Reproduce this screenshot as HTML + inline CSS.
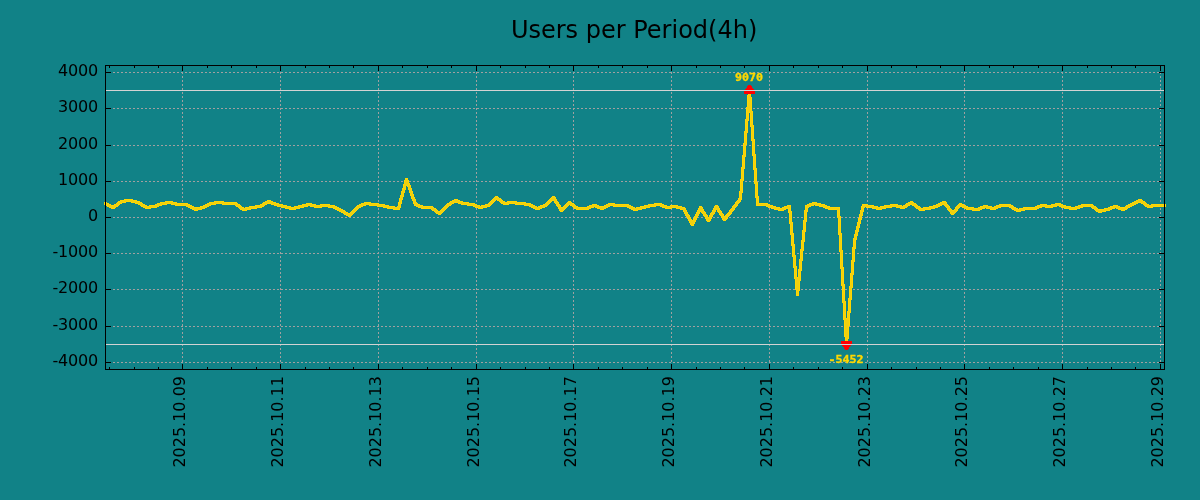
<!DOCTYPE html>
<html lang="en"><head><meta charset="utf-8"><title>Users per Period(4h)</title>
<style>
html,body{margin:0;padding:0;background:#118287;}
body{width:1200px;height:500px;overflow:hidden;}
svg{display:block;}
text{font-family:"DejaVu Sans","Liberation Sans",sans-serif;fill:#000000;}
.t{font-size:24px;}
.l{font-size:16px;letter-spacing:-0.2px;}
.x{letter-spacing:0;}
.m{font-family:"DejaVu Sans Mono","Liberation Mono",monospace;font-weight:bold;font-size:10.5px;fill:#ffd700;stroke:#ffd700;stroke-width:0.35px;}
</style></head><body>
<svg width="1200" height="500" viewBox="0 0 1200 500">
<rect x="0" y="0" width="1200" height="500" fill="#118287"/>
<g shape-rendering="crispEdges" stroke="#a0a0a0" stroke-width="1" stroke-dasharray="2 2" fill="none">
<line x1="105" y1="72.5" x2="1165" y2="72.5"/>
<line x1="105" y1="108.5" x2="1165" y2="108.5"/>
<line x1="105" y1="145.5" x2="1165" y2="145.5"/>
<line x1="105" y1="181.5" x2="1165" y2="181.5"/>
<line x1="105" y1="217.5" x2="1165" y2="217.5"/>
<line x1="105" y1="253.5" x2="1165" y2="253.5"/>
<line x1="105" y1="289.5" x2="1165" y2="289.5"/>
<line x1="105" y1="326.5" x2="1165" y2="326.5"/>
<line x1="105" y1="362.5" x2="1165" y2="362.5"/>
<line x1="182.5" y1="370" x2="182.5" y2="65"/>
<line x1="280.5" y1="370" x2="280.5" y2="65"/>
<line x1="378.5" y1="370" x2="378.5" y2="65"/>
<line x1="476.5" y1="370" x2="476.5" y2="65"/>
<line x1="573.5" y1="370" x2="573.5" y2="65"/>
<line x1="671.5" y1="370" x2="671.5" y2="65"/>
<line x1="769.5" y1="370" x2="769.5" y2="65"/>
<line x1="867.5" y1="370" x2="867.5" y2="65"/>
<line x1="964.5" y1="370" x2="964.5" y2="65"/>
<line x1="1062.5" y1="370" x2="1062.5" y2="65"/>
<line x1="1160.5" y1="370" x2="1160.5" y2="65"/>
</g>
<path shape-rendering="crispEdges" fill="#ffd700" d="M104 202h1v3h-1zM105 202h2v4h-2zM107 203h2v4h-2zM109 204h2v4h-2zM111 205h3v4h-3zM114 204h1v5h-1zM115 204h1v4h-1zM116 203h1v4h-1zM117 202h1v5h-1zM118 201h1v5h-1zM119 201h1v4h-1zM120 200h2v4h-2zM122 200h2v3h-2zM124 199h2v4h-2zM126 199h5v3h-5zM131 199h2v4h-2zM133 200h2v3h-2zM135 200h2v4h-2zM137 201h1v3h-1zM138 201h2v4h-2zM140 202h1v4h-1zM141 202h1v5h-1zM142 203h1v4h-1zM143 204h2v4h-2zM145 205h2v4h-2zM147 206h2v3h-2zM149 205h2v4h-2zM151 205h4v3h-4zM155 204h2v4h-2zM157 203h2v4h-2zM159 203h1v3h-1zM160 202h2v4h-2zM162 202h3v3h-3zM165 201h2v4h-2zM167 201h4v3h-4zM171 201h2v4h-2zM173 202h2v3h-2zM175 202h2v4h-2zM177 203h9v3h-9zM186 203h2v4h-2zM188 204h2v4h-2zM190 205h2v4h-2zM192 206h2v4h-2zM194 207h4v4h-4zM198 207h2v3h-2zM200 206h2v4h-2zM202 206h1v3h-1zM203 205h2v4h-2zM205 204h2v4h-2zM207 203h2v4h-2zM209 202h2v4h-2zM211 202h3v3h-3zM214 201h2v4h-2zM216 201h6v3h-6zM222 201h2v4h-2zM224 202h11v3h-11zM235 202h1v4h-1zM236 202h1v5h-1zM237 203h1v4h-1zM238 204h1v4h-1zM239 204h1v5h-1zM240 205h1v5h-1zM241 206h1v4h-1zM242 207h2v4h-2zM244 208h1v3h-1zM245 207h2v4h-2zM247 207h2v3h-2zM249 206h2v4h-2zM251 206h4v3h-4zM255 205h2v4h-2zM257 205h3v3h-3zM260 204h2v4h-2zM262 203h1v4h-1zM263 202h1v5h-1zM264 202h1v4h-1zM265 201h2v4h-2zM267 200h4v4h-4zM271 201h2v4h-2zM273 202h1v3h-1zM274 202h2v4h-2zM276 203h1v3h-1zM277 203h2v4h-2zM279 204h2v3h-2zM281 204h2v4h-2zM283 205h2v3h-2zM285 205h2v4h-2zM287 206h2v3h-2zM289 206h2v4h-2zM291 207h3v3h-3zM294 206h2v4h-2zM296 206h2v3h-2zM298 205h2v4h-2zM300 205h2v3h-2zM302 204h2v4h-2zM304 204h2v3h-2zM306 203h2v4h-2zM308 203h2v3h-2zM310 203h2v4h-2zM312 204h2v3h-2zM314 204h2v4h-2zM316 205h4v3h-4zM320 204h2v4h-2zM322 204h6v3h-6zM328 204h2v4h-2zM330 205h3v3h-3zM333 205h2v4h-2zM335 206h2v4h-2zM337 207h2v4h-2zM339 208h2v4h-2zM341 209h2v4h-2zM343 210h1v4h-1zM344 210h1v5h-1zM345 211h1v4h-1zM346 212h2v4h-2zM348 213h2v4h-2zM350 212h1v5h-1zM351 211h1v5h-1zM352 210h1v5h-1zM353 209h1v5h-1zM354 208h1v5h-1zM355 207h1v5h-1zM356 206h1v5h-1zM357 205h1v5h-1zM358 205h1v4h-1zM359 204h2v4h-2zM361 203h2v4h-2zM363 203h1v3h-1zM364 202h2v4h-2zM366 202h3v3h-3zM369 202h2v4h-2zM371 203h6v3h-6zM377 203h2v4h-2zM379 204h4v3h-4zM383 204h2v4h-2zM385 205h2v3h-2zM387 205h2v4h-2zM389 206h4v3h-4zM393 206h2v4h-2zM395 207h2v3h-2zM397 206h1v4h-1zM398 202h1v8h-1zM399 198h1v12h-1zM400 195h1v13h-1zM401 191h1v13h-1zM402 188h1v12h-1zM403 184h1v13h-1zM404 180h1v13h-1zM405 178h1v12h-1zM406 178h1v8h-1zM407 178h1v9h-1zM408 180h1v10h-1zM409 183h1v10h-1zM410 185h1v11h-1zM411 188h1v11h-1zM412 191h1v10h-1zM413 194h1v10h-1zM414 197h1v9h-1zM415 199h1v7h-1zM416 202h1v5h-1zM417 203h1v4h-1zM418 204h2v4h-2zM420 205h1v3h-1zM421 205h2v4h-2zM423 206h8v3h-8zM431 206h1v4h-1zM432 206h1v5h-1zM433 207h1v4h-1zM434 208h1v4h-1zM435 208h1v5h-1zM436 209h1v5h-1zM437 210h1v4h-1zM438 211h2v4h-2zM440 210h1v5h-1zM441 209h1v5h-1zM442 208h1v5h-1zM443 207h1v5h-1zM444 206h1v5h-1zM445 205h1v5h-1zM446 204h1v5h-1zM447 203h1v5h-1zM448 203h1v4h-1zM449 202h1v4h-1zM450 201h1v5h-1zM451 201h1v4h-1zM452 200h2v4h-2zM454 199h4v4h-4zM458 200h2v4h-2zM460 201h1v3h-1zM461 201h2v4h-2zM463 202h4v3h-4zM467 202h2v4h-2zM469 203h4v3h-4zM473 203h2v4h-2zM475 204h2v4h-2zM477 205h1v3h-1zM478 205h2v4h-2zM480 206h1v3h-1zM481 205h2v4h-2zM483 205h2v3h-2zM485 204h2v4h-2zM487 204h1v3h-1zM488 203h1v4h-1zM489 202h1v5h-1zM490 201h1v5h-1zM491 200h1v5h-1zM492 199h1v5h-1zM493 198h1v5h-1zM494 197h1v5h-1zM495 196h1v5h-1zM496 196h1v4h-1zM497 196h1v5h-1zM498 197h1v4h-1zM499 198h1v4h-1zM500 198h1v5h-1zM501 199h1v5h-1zM502 200h1v4h-1zM503 201h2v4h-2zM505 202h2v3h-2zM507 201h2v4h-2zM509 201h6v3h-6zM515 201h2v4h-2zM517 202h7v3h-7zM524 202h2v4h-2zM526 203h3v3h-3zM529 203h2v4h-2zM531 204h2v4h-2zM533 205h2v4h-2zM535 206h2v4h-2zM537 207h1v3h-1zM538 206h2v4h-2zM540 205h2v4h-2zM542 205h1v3h-1zM543 204h2v4h-2zM545 203h1v4h-1zM546 202h1v5h-1zM547 201h1v5h-1zM548 200h1v5h-1zM549 199h1v5h-1zM550 198h1v5h-1zM551 197h1v5h-1zM552 196h2v5h-2zM554 196h1v7h-1zM555 197h1v7h-1zM556 199h1v7h-1zM557 201h1v6h-1zM558 202h1v7h-1zM559 204h1v7h-1zM560 205h1v7h-1zM561 207h2v5h-2zM563 206h1v5h-1zM564 205h1v5h-1zM565 204h1v5h-1zM566 203h1v5h-1zM567 202h1v5h-1zM568 201h1v5h-1zM569 201h1v4h-1zM570 201h1v5h-1zM571 202h1v4h-1zM572 203h1v4h-1zM573 203h1v5h-1zM574 204h1v5h-1zM575 205h1v4h-1zM576 206h2v4h-2zM578 207h9v3h-9zM587 206h2v4h-2zM589 205h2v4h-2zM591 205h1v3h-1zM592 204h2v4h-2zM594 204h1v3h-1zM595 204h2v4h-2zM597 205h2v4h-2zM599 206h1v3h-1zM600 206h4v4h-4zM604 205h2v4h-2zM606 204h2v4h-2zM608 203h2v4h-2zM610 203h3v3h-3zM613 203h2v4h-2zM615 204h12v3h-12zM627 204h2v4h-2zM629 205h2v4h-2zM631 206h2v4h-2zM633 207h2v4h-2zM635 208h1v3h-1zM636 207h2v4h-2zM638 207h2v3h-2zM640 206h2v4h-2zM642 206h2v3h-2zM644 205h2v4h-2zM646 205h2v3h-2zM648 204h2v4h-2zM650 204h4v3h-4zM654 203h2v4h-2zM656 203h4v3h-4zM660 203h2v4h-2zM662 204h2v4h-2zM664 205h1v3h-1zM665 205h2v4h-2zM667 206h3v3h-3zM670 205h2v4h-2zM672 205h4v3h-4zM676 205h2v4h-2zM678 206h2v3h-2zM680 206h2v4h-2zM682 207h1v3h-1zM683 207h1v5h-1zM684 207h1v7h-1zM685 208h1v8h-1zM686 210h1v7h-1zM687 212h1v7h-1zM688 214h1v7h-1zM689 215h1v8h-1zM690 217h1v8h-1zM691 219h1v7h-1zM692 220h1v6h-1zM693 218h1v8h-1zM694 216h1v8h-1zM695 214h1v8h-1zM696 212h1v8h-1zM697 210h1v8h-1zM698 208h1v8h-1zM699 206h1v8h-1zM700 206h1v6h-1zM701 206h1v7h-1zM702 207h1v7h-1zM703 209h1v7h-1zM704 211h1v6h-1zM705 212h1v7h-1zM706 214h1v7h-1zM707 215h1v7h-1zM708 217h1v5h-1zM709 215h1v7h-1zM710 213h1v8h-1zM711 212h1v7h-1zM712 210h1v7h-1zM713 208h1v7h-1zM714 206h1v8h-1zM715 205h1v7h-1zM716 205h1v5h-1zM717 205h1v7h-1zM718 206h1v7h-1zM719 208h1v7h-1zM720 210h1v6h-1zM721 211h1v7h-1zM722 213h1v7h-1zM723 214h1v7h-1zM724 216h1v5h-1zM725 215h1v6h-1zM726 214h1v6h-1zM727 213h1v6h-1zM728 212h1v5h-1zM729 210h1v6h-1zM730 209h1v6h-1zM731 208h1v6h-1zM732 206h1v6h-1zM733 205h1v6h-1zM734 204h1v6h-1zM735 202h1v6h-1zM736 201h1v6h-1zM737 200h1v6h-1zM738 198h1v6h-1zM739 191h1v12h-1zM740 179h1v23h-1zM741 167h1v33h-1zM742 155h1v38h-1zM743 143h1v38h-1zM744 131h1v38h-1zM745 119h1v38h-1zM746 107h1v38h-1zM747 95h1v38h-1zM748 89h1v32h-1zM749 89h1v24h-1zM750 89h1v38h-1zM751 97h1v44h-1zM752 111h1v45h-1zM753 125h1v45h-1zM754 139h1v45h-1zM755 154h1v44h-1zM756 168h1v38h-1zM757 182h1v24h-1zM758 196h1v10h-1zM759 203h7v3h-7zM766 203h2v4h-2zM768 204h2v4h-2zM770 205h1v3h-1zM771 205h2v4h-2zM773 206h1v3h-1zM774 206h2v4h-2zM776 207h2v3h-2zM778 207h2v4h-2zM780 208h2v3h-2zM782 207h2v4h-2zM784 206h2v4h-2zM786 206h1v3h-1zM787 205h1v4h-1zM788 205h1v8h-1zM789 205h1v19h-1zM790 205h1v30h-1zM791 211h1v35h-1zM792 222h1v35h-1zM793 233h1v35h-1zM794 244h1v35h-1zM795 255h1v35h-1zM796 266h1v30h-1zM797 277h1v19h-1zM798 269h1v27h-1zM799 259h1v32h-1zM800 249h1v32h-1zM801 240h1v31h-1zM802 230h1v31h-1zM803 220h1v31h-1zM804 210h1v32h-1zM805 205h1v27h-1zM806 205h1v17h-1zM807 204h1v8h-1zM808 204h1v4h-1zM809 203h2v4h-2zM811 203h1v3h-1zM812 202h2v4h-2zM814 202h1v3h-1zM815 202h2v4h-2zM817 203h2v3h-2zM819 203h2v4h-2zM821 204h2v3h-2zM823 204h2v4h-2zM825 205h2v4h-2zM827 206h1v3h-1zM828 206h2v4h-2zM830 207h7v3h-7zM837 207h1v11h-1zM838 207h1v28h-1zM839 207h1v45h-1zM840 216h1v53h-1zM841 233h1v53h-1zM842 250h1v53h-1zM843 267h1v53h-1zM844 284h1v53h-1zM845 301h1v45h-1zM846 318h1v28h-1zM847 311h1v35h-1zM848 298h1v41h-1zM849 286h1v40h-1zM850 273h1v40h-1zM851 260h1v40h-1zM852 247h1v41h-1zM853 238h1v37h-1zM854 234h1v28h-1zM855 230h1v19h-1zM856 226h1v14h-1zM857 222h1v14h-1zM858 218h1v14h-1zM859 214h1v14h-1zM860 210h1v14h-1zM861 206h1v14h-1zM862 204h1v12h-1zM863 204h1v8h-1zM864 204h1v4h-1zM865 204h1v3h-1zM866 204h2v4h-2zM868 205h4v3h-4zM872 205h2v4h-2zM874 206h2v3h-2zM876 206h2v4h-2zM878 207h2v3h-2zM880 206h2v4h-2zM882 206h2v3h-2zM884 205h2v4h-2zM886 205h4v3h-4zM890 204h2v4h-2zM892 204h4v3h-4zM896 204h2v4h-2zM898 205h2v3h-2zM900 205h2v4h-2zM902 206h1v3h-1zM903 205h2v4h-2zM905 204h1v4h-1zM906 203h1v5h-1zM907 203h1v4h-1zM908 202h2v4h-2zM910 201h2v4h-2zM912 201h1v5h-1zM913 202h1v4h-1zM914 203h1v4h-1zM915 203h1v5h-1zM916 204h1v5h-1zM917 205h1v4h-1zM918 206h1v4h-1zM919 206h1v5h-1zM920 207h1v4h-1zM921 208h2v3h-2zM923 207h2v4h-2zM925 207h4v3h-4zM929 206h2v4h-2zM931 206h2v3h-2zM933 205h2v4h-2zM935 205h1v3h-1zM936 204h2v4h-2zM938 203h2v4h-2zM940 202h2v4h-2zM942 201h2v4h-2zM944 201h1v5h-1zM945 201h1v6h-1zM946 202h1v6h-1zM947 204h1v6h-1zM948 205h1v6h-1zM949 206h1v6h-1zM950 208h1v6h-1zM951 209h1v6h-1zM952 210h2v5h-2zM954 209h1v5h-1zM955 207h1v6h-1zM956 206h1v6h-1zM957 205h1v6h-1zM958 204h1v5h-1zM959 203h1v5h-1zM960 203h2v4h-2zM962 204h2v4h-2zM964 205h2v4h-2zM966 206h2v4h-2zM968 207h4v3h-4zM972 207h2v4h-2zM974 208h4v3h-4zM978 207h2v4h-2zM980 206h2v4h-2zM982 206h1v3h-1zM983 205h2v4h-2zM985 205h1v3h-1zM986 205h2v4h-2zM988 206h2v3h-2zM990 206h2v4h-2zM992 207h2v3h-2zM994 206h2v4h-2zM996 205h2v4h-2zM998 205h1v3h-1zM999 204h2v4h-2zM1001 204h8v3h-8zM1009 204h2v4h-2zM1011 205h1v4h-1zM1012 205h1v5h-1zM1013 206h1v4h-1zM1014 207h2v4h-2zM1016 208h2v4h-2zM1018 209h1v3h-1zM1019 208h2v4h-2zM1021 208h2v3h-2zM1023 207h2v4h-2zM1025 207h10v3h-10zM1035 206h2v4h-2zM1037 205h2v4h-2zM1039 205h1v3h-1zM1040 204h2v4h-2zM1042 204h3v3h-3zM1045 204h2v4h-2zM1047 205h4v3h-4zM1051 204h2v4h-2zM1053 204h2v3h-2zM1055 203h2v4h-2zM1057 203h2v3h-2zM1059 203h2v4h-2zM1061 204h2v4h-2zM1063 205h1v3h-1zM1064 205h2v4h-2zM1066 206h3v3h-3zM1069 206h2v4h-2zM1071 207h4v3h-4zM1075 206h2v4h-2zM1077 206h1v3h-1zM1078 205h2v4h-2zM1080 205h1v3h-1zM1081 204h2v4h-2zM1083 204h8v3h-8zM1091 204h1v4h-1zM1092 204h1v5h-1zM1093 205h1v4h-1zM1094 206h1v4h-1zM1095 206h1v5h-1zM1096 207h1v5h-1zM1097 208h1v4h-1zM1098 209h4v4h-4zM1102 209h2v3h-2zM1104 208h2v4h-2zM1106 208h2v3h-2zM1108 207h2v4h-2zM1110 206h2v4h-2zM1112 206h1v3h-1zM1113 205h2v4h-2zM1115 205h1v3h-1zM1116 205h2v4h-2zM1118 206h2v4h-2zM1120 207h1v3h-1zM1121 207h4v4h-4zM1125 206h1v4h-1zM1126 205h1v5h-1zM1127 205h1v4h-1zM1128 204h2v4h-2zM1130 203h2v4h-2zM1132 202h2v4h-2zM1134 201h2v4h-2zM1136 200h2v4h-2zM1138 199h3v4h-3zM1141 199h1v5h-1zM1142 200h1v4h-1zM1143 201h1v4h-1zM1144 201h1v5h-1zM1145 202h1v5h-1zM1146 203h1v4h-1zM1147 204h2v4h-2zM1149 205h2v3h-2zM1151 204h2v4h-2zM1153 204h13v3h-13z"/>
<path shape-rendering="crispEdges" fill="#f0d010" d="M105 203h2v2h-2zM107 204h2v2h-2zM109 205h2v2h-2zM111 206h3v2h-3zM114 205h1v3h-1zM115 205h1v2h-1zM116 204h1v2h-1zM117 203h1v3h-1zM118 202h1v3h-1zM119 202h1v2h-1zM120 201h2v2h-2zM122 201h2v1h-2zM124 200h2v2h-2zM126 200h5v1h-5zM131 200h2v2h-2zM133 201h2v1h-2zM135 201h2v2h-2zM137 202h1v1h-1zM138 202h2v2h-2zM140 203h1v2h-1zM141 203h1v3h-1zM142 204h1v2h-1zM143 205h2v2h-2zM145 206h2v2h-2zM147 207h2v1h-2zM149 206h2v2h-2zM151 206h4v1h-4zM155 205h2v2h-2zM157 204h2v2h-2zM159 204h1v1h-1zM160 203h2v2h-2zM162 203h3v1h-3zM165 202h2v2h-2zM167 202h4v1h-4zM171 202h2v2h-2zM173 203h2v1h-2zM175 203h2v2h-2zM177 204h9v1h-9zM186 204h2v2h-2zM188 205h2v2h-2zM190 206h2v2h-2zM192 207h2v2h-2zM194 208h4v2h-4zM198 208h2v1h-2zM200 207h2v2h-2zM202 207h1v1h-1zM203 206h2v2h-2zM205 205h2v2h-2zM207 204h2v2h-2zM209 203h2v2h-2zM211 203h3v1h-3zM214 202h2v2h-2zM216 202h6v1h-6zM222 202h2v2h-2zM224 203h11v1h-11zM235 203h1v2h-1zM236 203h1v3h-1zM237 204h1v2h-1zM238 205h1v2h-1zM239 205h1v3h-1zM240 206h1v3h-1zM241 207h1v2h-1zM242 208h2v2h-2zM244 209h1v1h-1zM245 208h2v2h-2zM247 208h2v1h-2zM249 207h2v2h-2zM251 207h4v1h-4zM255 206h2v2h-2zM257 206h3v1h-3zM260 205h2v2h-2zM262 204h1v2h-1zM263 203h1v3h-1zM264 203h1v2h-1zM265 202h2v2h-2zM267 201h4v2h-4zM271 202h2v2h-2zM273 203h1v1h-1zM274 203h2v2h-2zM276 204h1v1h-1zM277 204h2v2h-2zM279 205h2v1h-2zM281 205h2v2h-2zM283 206h2v1h-2zM285 206h2v2h-2zM287 207h2v1h-2zM289 207h2v2h-2zM291 208h3v1h-3zM294 207h2v2h-2zM296 207h2v1h-2zM298 206h2v2h-2zM300 206h2v1h-2zM302 205h2v2h-2zM304 205h2v1h-2zM306 204h2v2h-2zM308 204h2v1h-2zM310 204h2v2h-2zM312 205h2v1h-2zM314 205h2v2h-2zM316 206h4v1h-4zM320 205h2v2h-2zM322 205h6v1h-6zM328 205h2v2h-2zM330 206h3v1h-3zM333 206h2v2h-2zM335 207h2v2h-2zM337 208h2v2h-2zM339 209h2v2h-2zM341 210h2v2h-2zM343 211h1v2h-1zM344 211h1v3h-1zM345 212h1v2h-1zM346 213h2v2h-2zM348 214h2v2h-2zM350 213h1v3h-1zM351 212h1v3h-1zM352 211h1v3h-1zM353 210h1v3h-1zM354 209h1v3h-1zM355 208h1v3h-1zM356 207h1v3h-1zM357 206h1v3h-1zM358 206h1v2h-1zM359 205h2v2h-2zM361 204h2v2h-2zM363 204h1v1h-1zM364 203h2v2h-2zM366 203h3v1h-3zM369 203h2v2h-2zM371 204h6v1h-6zM377 204h2v2h-2zM379 205h4v1h-4zM383 205h2v2h-2zM385 206h2v1h-2zM387 206h2v2h-2zM389 207h4v1h-4zM393 207h2v2h-2zM395 208h2v1h-2zM397 207h1v2h-1zM398 206h1v3h-1zM399 202h1v6h-1zM400 198h1v6h-1zM401 195h1v5h-1zM402 191h1v6h-1zM403 188h1v5h-1zM404 184h1v6h-1zM405 180h1v6h-1zM406 179h1v6h-1zM407 180h1v6h-1zM408 183h1v4h-1zM409 185h1v5h-1zM410 188h1v5h-1zM411 191h1v5h-1zM412 194h1v5h-1zM413 197h1v4h-1zM414 199h1v5h-1zM415 202h1v3h-1zM416 203h1v3h-1zM417 204h1v2h-1zM418 205h2v2h-2zM420 206h1v1h-1zM421 206h2v2h-2zM423 207h8v1h-8zM431 207h1v2h-1zM432 207h1v3h-1zM433 208h1v2h-1zM434 209h1v2h-1zM435 209h1v3h-1zM436 210h1v3h-1zM437 211h1v2h-1zM438 212h2v2h-2zM440 211h1v3h-1zM441 210h1v3h-1zM442 209h1v3h-1zM443 208h1v3h-1zM444 207h1v3h-1zM445 206h1v3h-1zM446 205h1v3h-1zM447 204h1v3h-1zM448 204h1v2h-1zM449 203h1v2h-1zM450 202h1v3h-1zM451 202h1v2h-1zM452 201h2v2h-2zM454 200h4v2h-4zM458 201h2v2h-2zM460 202h1v1h-1zM461 202h2v2h-2zM463 203h4v1h-4zM467 203h2v2h-2zM469 204h4v1h-4zM473 204h2v2h-2zM475 205h2v2h-2zM477 206h1v1h-1zM478 206h2v2h-2zM480 207h1v1h-1zM481 206h2v2h-2zM483 206h2v1h-2zM485 205h2v2h-2zM487 205h1v1h-1zM488 204h1v2h-1zM489 203h1v3h-1zM490 202h1v3h-1zM491 201h1v3h-1zM492 200h1v3h-1zM493 199h1v3h-1zM494 198h1v3h-1zM495 197h1v3h-1zM496 197h1v2h-1zM497 197h1v3h-1zM498 198h1v2h-1zM499 199h1v2h-1zM500 199h1v3h-1zM501 200h1v3h-1zM502 201h1v2h-1zM503 202h2v2h-2zM505 203h2v1h-2zM507 202h2v2h-2zM509 202h6v1h-6zM515 202h2v2h-2zM517 203h7v1h-7zM524 203h2v2h-2zM526 204h3v1h-3zM529 204h2v2h-2zM531 205h2v2h-2zM533 206h2v2h-2zM535 207h2v2h-2zM537 208h1v1h-1zM538 207h2v2h-2zM540 206h2v2h-2zM542 206h1v1h-1zM543 205h2v2h-2zM545 204h1v2h-1zM546 203h1v3h-1zM547 202h1v3h-1zM548 201h1v3h-1zM549 200h1v3h-1zM550 199h1v3h-1zM551 198h1v3h-1zM552 197h2v3h-2zM554 197h1v4h-1zM555 199h1v4h-1zM556 201h1v3h-1zM557 202h1v4h-1zM558 204h1v3h-1zM559 205h1v4h-1zM560 207h1v4h-1zM561 208h2v3h-2zM563 207h1v3h-1zM564 206h1v3h-1zM565 205h1v3h-1zM566 204h1v3h-1zM567 203h1v3h-1zM568 202h1v3h-1zM569 202h1v2h-1zM570 202h1v3h-1zM571 203h1v2h-1zM572 204h1v2h-1zM573 204h1v3h-1zM574 205h1v3h-1zM575 206h1v2h-1zM576 207h2v2h-2zM578 208h9v1h-9zM587 207h2v2h-2zM589 206h2v2h-2zM591 206h1v1h-1zM592 205h2v2h-2zM594 205h1v1h-1zM595 205h2v2h-2zM597 206h2v2h-2zM599 207h1v1h-1zM600 207h4v2h-4zM604 206h2v2h-2zM606 205h2v2h-2zM608 204h2v2h-2zM610 204h3v1h-3zM613 204h2v2h-2zM615 205h12v1h-12zM627 205h2v2h-2zM629 206h2v2h-2zM631 207h2v2h-2zM633 208h2v2h-2zM635 209h1v1h-1zM636 208h2v2h-2zM638 208h2v1h-2zM640 207h2v2h-2zM642 207h2v1h-2zM644 206h2v2h-2zM646 206h2v1h-2zM648 205h2v2h-2zM650 205h4v1h-4zM654 204h2v2h-2zM656 204h4v1h-4zM660 204h2v2h-2zM662 205h2v2h-2zM664 206h1v1h-1zM665 206h2v2h-2zM667 207h3v1h-3zM670 206h2v2h-2zM672 206h4v1h-4zM676 206h2v2h-2zM678 207h2v1h-2zM680 207h2v2h-2zM682 208h1v1h-1zM683 208h1v2h-1zM684 208h1v4h-1zM685 210h1v4h-1zM686 212h1v4h-1zM687 214h1v3h-1zM688 215h1v4h-1zM689 217h1v4h-1zM690 219h1v4h-1zM691 220h1v5h-1zM692 221h1v4h-1zM693 220h1v4h-1zM694 218h1v4h-1zM695 216h1v4h-1zM696 214h1v4h-1zM697 212h1v4h-1zM698 210h1v4h-1zM699 208h1v4h-1zM700 207h1v4h-1zM701 207h1v5h-1zM702 209h1v4h-1zM703 211h1v3h-1zM704 212h1v4h-1zM705 214h1v3h-1zM706 215h1v4h-1zM707 217h1v4h-1zM708 218h1v3h-1zM709 217h1v4h-1zM710 215h1v4h-1zM711 213h1v4h-1zM712 212h1v3h-1zM713 210h1v4h-1zM714 208h1v4h-1zM715 206h1v4h-1zM716 206h1v3h-1zM717 206h1v4h-1zM718 208h1v4h-1zM719 210h1v3h-1zM720 211h1v4h-1zM721 213h1v3h-1zM722 214h1v4h-1zM723 216h1v4h-1zM724 217h1v3h-1zM725 216h1v4h-1zM726 215h1v4h-1zM727 214h1v3h-1zM728 213h1v3h-1zM729 212h1v3h-1zM730 210h1v4h-1zM731 209h1v3h-1zM732 208h1v3h-1zM733 206h1v4h-1zM734 205h1v3h-1zM735 204h1v3h-1zM736 202h1v4h-1zM737 201h1v3h-1zM738 200h1v3h-1zM739 198h1v4h-1zM740 191h1v9h-1zM741 179h1v14h-1zM742 167h1v14h-1zM743 155h1v14h-1zM744 143h1v14h-1zM745 131h1v14h-1zM746 119h1v14h-1zM747 107h1v14h-1zM748 95h1v18h-1zM749 90h1v22h-1zM750 97h1v16h-1zM751 111h1v16h-1zM752 125h1v16h-1zM753 139h1v17h-1zM754 154h1v16h-1zM755 168h1v16h-1zM756 182h1v16h-1zM757 196h1v9h-1zM758 203h1v2h-1zM759 204h7v1h-7zM766 204h2v2h-2zM768 205h2v2h-2zM770 206h1v1h-1zM771 206h2v2h-2zM773 207h1v1h-1zM774 207h2v2h-2zM776 208h2v1h-2zM778 208h2v2h-2zM780 209h2v1h-2zM782 208h2v2h-2zM784 207h2v2h-2zM786 207h1v1h-1zM787 206h1v2h-1zM788 206h1v3h-1zM789 206h1v7h-1zM790 211h1v13h-1zM791 222h1v13h-1zM792 233h1v13h-1zM793 244h1v13h-1zM794 255h1v13h-1zM795 266h1v13h-1zM796 277h1v13h-1zM797 278h1v17h-1zM798 277h1v14h-1zM799 269h1v12h-1zM800 259h1v12h-1zM801 249h1v12h-1zM802 240h1v11h-1zM803 230h1v12h-1zM804 220h1v12h-1zM805 210h1v12h-1zM806 206h1v6h-1zM807 205h1v3h-1zM808 205h1v2h-1zM809 204h2v2h-2zM811 204h1v1h-1zM812 203h2v2h-2zM814 203h1v1h-1zM815 203h2v2h-2zM817 204h2v1h-2zM819 204h2v2h-2zM821 205h2v1h-2zM823 205h2v2h-2zM825 206h2v2h-2zM827 207h1v1h-1zM828 207h2v2h-2zM830 208h7v1h-7zM837 208h1v2h-1zM838 208h1v10h-1zM839 216h1v19h-1zM840 233h1v19h-1zM841 250h1v19h-1zM842 267h1v19h-1zM843 284h1v19h-1zM844 301h1v19h-1zM845 318h1v19h-1zM846 319h1v26h-1zM847 318h1v21h-1zM848 311h1v15h-1zM849 298h1v15h-1zM850 286h1v14h-1zM851 273h1v15h-1zM852 260h1v15h-1zM853 247h1v15h-1zM854 238h1v11h-1zM855 234h1v6h-1zM856 230h1v6h-1zM857 226h1v6h-1zM858 222h1v6h-1zM859 218h1v6h-1zM860 214h1v6h-1zM861 210h1v6h-1zM862 206h1v6h-1zM863 205h1v3h-1zM864 205h1v2h-1zM865 205h1v1h-1zM866 205h2v2h-2zM868 206h4v1h-4zM872 206h2v2h-2zM874 207h2v1h-2zM876 207h2v2h-2zM878 208h2v1h-2zM880 207h2v2h-2zM882 207h2v1h-2zM884 206h2v2h-2zM886 206h4v1h-4zM890 205h2v2h-2zM892 205h4v1h-4zM896 205h2v2h-2zM898 206h2v1h-2zM900 206h2v2h-2zM902 207h1v1h-1zM903 206h2v2h-2zM905 205h1v2h-1zM906 204h1v3h-1zM907 204h1v2h-1zM908 203h2v2h-2zM910 202h2v2h-2zM912 202h1v3h-1zM913 203h1v2h-1zM914 204h1v2h-1zM915 204h1v3h-1zM916 205h1v3h-1zM917 206h1v2h-1zM918 207h1v2h-1zM919 207h1v3h-1zM920 208h1v2h-1zM921 209h2v1h-2zM923 208h2v2h-2zM925 208h4v1h-4zM929 207h2v2h-2zM931 207h2v1h-2zM933 206h2v2h-2zM935 206h1v1h-1zM936 205h2v2h-2zM938 204h2v2h-2zM940 203h2v2h-2zM942 202h2v2h-2zM944 202h1v3h-1zM945 202h1v4h-1zM946 204h1v3h-1zM947 205h1v3h-1zM948 206h1v4h-1zM949 208h1v3h-1zM950 209h1v3h-1zM951 210h1v4h-1zM952 211h2v3h-2zM954 210h1v3h-1zM955 209h1v3h-1zM956 207h1v4h-1zM957 206h1v3h-1zM958 205h1v3h-1zM959 204h1v3h-1zM960 204h2v2h-2zM962 205h2v2h-2zM964 206h2v2h-2zM966 207h2v2h-2zM968 208h4v1h-4zM972 208h2v2h-2zM974 209h4v1h-4zM978 208h2v2h-2zM980 207h2v2h-2zM982 207h1v1h-1zM983 206h2v2h-2zM985 206h1v1h-1zM986 206h2v2h-2zM988 207h2v1h-2zM990 207h2v2h-2zM992 208h2v1h-2zM994 207h2v2h-2zM996 206h2v2h-2zM998 206h1v1h-1zM999 205h2v2h-2zM1001 205h8v1h-8zM1009 205h2v2h-2zM1011 206h1v2h-1zM1012 206h1v3h-1zM1013 207h1v2h-1zM1014 208h2v2h-2zM1016 209h2v2h-2zM1018 210h1v1h-1zM1019 209h2v2h-2zM1021 209h2v1h-2zM1023 208h2v2h-2zM1025 208h10v1h-10zM1035 207h2v2h-2zM1037 206h2v2h-2zM1039 206h1v1h-1zM1040 205h2v2h-2zM1042 205h3v1h-3zM1045 205h2v2h-2zM1047 206h4v1h-4zM1051 205h2v2h-2zM1053 205h2v1h-2zM1055 204h2v2h-2zM1057 204h2v1h-2zM1059 204h2v2h-2zM1061 205h2v2h-2zM1063 206h1v1h-1zM1064 206h2v2h-2zM1066 207h3v1h-3zM1069 207h2v2h-2zM1071 208h4v1h-4zM1075 207h2v2h-2zM1077 207h1v1h-1zM1078 206h2v2h-2zM1080 206h1v1h-1zM1081 205h2v2h-2zM1083 205h8v1h-8zM1091 205h1v2h-1zM1092 205h1v3h-1zM1093 206h1v2h-1zM1094 207h1v2h-1zM1095 207h1v3h-1zM1096 208h1v3h-1zM1097 209h1v2h-1zM1098 210h4v2h-4zM1102 210h2v1h-2zM1104 209h2v2h-2zM1106 209h2v1h-2zM1108 208h2v2h-2zM1110 207h2v2h-2zM1112 207h1v1h-1zM1113 206h2v2h-2zM1115 206h1v1h-1zM1116 206h2v2h-2zM1118 207h2v2h-2zM1120 208h1v1h-1zM1121 208h4v2h-4zM1125 207h1v2h-1zM1126 206h1v3h-1zM1127 206h1v2h-1zM1128 205h2v2h-2zM1130 204h2v2h-2zM1132 203h2v2h-2zM1134 202h2v2h-2zM1136 201h2v2h-2zM1138 200h3v2h-3zM1141 200h1v3h-1zM1142 201h1v2h-1zM1143 202h1v2h-1zM1144 202h1v3h-1zM1145 203h1v3h-1zM1146 204h1v2h-1zM1147 205h2v2h-2zM1149 206h2v1h-2zM1151 205h2v2h-2zM1153 205h12v1h-12z"/>
<g shape-rendering="crispEdges" fill="#ff0000">
<rect x="748" y="85" width="3" height="1"/>
<rect x="747" y="86" width="5" height="1"/>
<rect x="747" y="87" width="5" height="1"/>
<rect x="746" y="88" width="7" height="1"/>
<rect x="745" y="89" width="9" height="1"/>
<rect x="744" y="90" width="11" height="1"/>
<rect x="744" y="91" width="11" height="1"/>
<rect x="744" y="92" width="11" height="1"/>
<rect x="744" y="93" width="11" height="1"/>
<rect x="841" y="341" width="11" height="1"/>
<rect x="841" y="342" width="11" height="1"/>
<rect x="841" y="343" width="11" height="1"/>
<rect x="841" y="344" width="11" height="1"/>
<rect x="842" y="345" width="9" height="1"/>
<rect x="843" y="346" width="7" height="1"/>
<rect x="844" y="347" width="5" height="1"/>
<rect x="844" y="348" width="5" height="1"/>
<rect x="845" y="349" width="3" height="1"/>
</g>
<g shape-rendering="crispEdges" fill="#d3d3d3">
<rect x="106" y="90" width="1058" height="1"/>
<rect x="106" y="344" width="1058" height="1"/>
</g>
<g shape-rendering="crispEdges" fill="#000000">
<rect x="105" y="65" width="1060" height="1"/>
<rect x="105" y="369" width="1060" height="1"/>
<rect x="105" y="65" width="1" height="305"/>
<rect x="1164" y="65" width="1" height="305"/>
<rect x="106" y="72" width="5" height="1"/>
<rect x="1159" y="72" width="5" height="1"/>
<rect x="106" y="108" width="5" height="1"/>
<rect x="1159" y="108" width="5" height="1"/>
<rect x="106" y="145" width="5" height="1"/>
<rect x="1159" y="145" width="5" height="1"/>
<rect x="106" y="181" width="5" height="1"/>
<rect x="1159" y="181" width="5" height="1"/>
<rect x="106" y="217" width="5" height="1"/>
<rect x="1159" y="217" width="5" height="1"/>
<rect x="106" y="253" width="5" height="1"/>
<rect x="1159" y="253" width="5" height="1"/>
<rect x="106" y="289" width="5" height="1"/>
<rect x="1159" y="289" width="5" height="1"/>
<rect x="106" y="326" width="5" height="1"/>
<rect x="1159" y="326" width="5" height="1"/>
<rect x="106" y="362" width="5" height="1"/>
<rect x="1159" y="362" width="5" height="1"/>
<rect x="182" y="66" width="1" height="5"/>
<rect x="182" y="364" width="1" height="5"/>
<rect x="280" y="66" width="1" height="5"/>
<rect x="280" y="364" width="1" height="5"/>
<rect x="378" y="66" width="1" height="5"/>
<rect x="378" y="364" width="1" height="5"/>
<rect x="476" y="66" width="1" height="5"/>
<rect x="476" y="364" width="1" height="5"/>
<rect x="573" y="66" width="1" height="5"/>
<rect x="573" y="364" width="1" height="5"/>
<rect x="671" y="66" width="1" height="5"/>
<rect x="671" y="364" width="1" height="5"/>
<rect x="769" y="66" width="1" height="5"/>
<rect x="769" y="364" width="1" height="5"/>
<rect x="867" y="66" width="1" height="5"/>
<rect x="867" y="364" width="1" height="5"/>
<rect x="964" y="66" width="1" height="5"/>
<rect x="964" y="364" width="1" height="5"/>
<rect x="1062" y="66" width="1" height="5"/>
<rect x="1062" y="364" width="1" height="5"/>
<rect x="1160" y="66" width="1" height="5"/>
<rect x="1160" y="364" width="1" height="5"/>
<rect x="109" y="66" width="1" height="2"/>
<rect x="109" y="367" width="1" height="2"/>
<rect x="134" y="66" width="1" height="2"/>
<rect x="134" y="367" width="1" height="2"/>
<rect x="158" y="66" width="1" height="2"/>
<rect x="158" y="367" width="1" height="2"/>
<rect x="207" y="66" width="1" height="2"/>
<rect x="207" y="367" width="1" height="2"/>
<rect x="231" y="66" width="1" height="2"/>
<rect x="231" y="367" width="1" height="2"/>
<rect x="256" y="66" width="1" height="2"/>
<rect x="256" y="367" width="1" height="2"/>
<rect x="305" y="66" width="1" height="2"/>
<rect x="305" y="367" width="1" height="2"/>
<rect x="329" y="66" width="1" height="2"/>
<rect x="329" y="367" width="1" height="2"/>
<rect x="353" y="66" width="1" height="2"/>
<rect x="353" y="367" width="1" height="2"/>
<rect x="402" y="66" width="1" height="2"/>
<rect x="402" y="367" width="1" height="2"/>
<rect x="427" y="66" width="1" height="2"/>
<rect x="427" y="367" width="1" height="2"/>
<rect x="451" y="66" width="1" height="2"/>
<rect x="451" y="367" width="1" height="2"/>
<rect x="500" y="66" width="1" height="2"/>
<rect x="500" y="367" width="1" height="2"/>
<rect x="525" y="66" width="1" height="2"/>
<rect x="525" y="367" width="1" height="2"/>
<rect x="549" y="66" width="1" height="2"/>
<rect x="549" y="367" width="1" height="2"/>
<rect x="598" y="66" width="1" height="2"/>
<rect x="598" y="367" width="1" height="2"/>
<rect x="622" y="66" width="1" height="2"/>
<rect x="622" y="367" width="1" height="2"/>
<rect x="647" y="66" width="1" height="2"/>
<rect x="647" y="367" width="1" height="2"/>
<rect x="696" y="66" width="1" height="2"/>
<rect x="696" y="367" width="1" height="2"/>
<rect x="720" y="66" width="1" height="2"/>
<rect x="720" y="367" width="1" height="2"/>
<rect x="744" y="66" width="1" height="2"/>
<rect x="744" y="367" width="1" height="2"/>
<rect x="793" y="66" width="1" height="2"/>
<rect x="793" y="367" width="1" height="2"/>
<rect x="818" y="66" width="1" height="2"/>
<rect x="818" y="367" width="1" height="2"/>
<rect x="842" y="66" width="1" height="2"/>
<rect x="842" y="367" width="1" height="2"/>
<rect x="891" y="66" width="1" height="2"/>
<rect x="891" y="367" width="1" height="2"/>
<rect x="916" y="66" width="1" height="2"/>
<rect x="916" y="367" width="1" height="2"/>
<rect x="940" y="66" width="1" height="2"/>
<rect x="940" y="367" width="1" height="2"/>
<rect x="989" y="66" width="1" height="2"/>
<rect x="989" y="367" width="1" height="2"/>
<rect x="1013" y="66" width="1" height="2"/>
<rect x="1013" y="367" width="1" height="2"/>
<rect x="1038" y="66" width="1" height="2"/>
<rect x="1038" y="367" width="1" height="2"/>
<rect x="1087" y="66" width="1" height="2"/>
<rect x="1087" y="367" width="1" height="2"/>
<rect x="1111" y="66" width="1" height="2"/>
<rect x="1111" y="367" width="1" height="2"/>
<rect x="1135" y="66" width="1" height="2"/>
<rect x="1135" y="367" width="1" height="2"/>
</g>
<text class="t" x="634.1" y="37.5" text-anchor="middle">Users per Period(4h)</text>
<text class="l" x="98" y="76.3" text-anchor="end">4000</text>
<text class="l" x="98" y="112.3" text-anchor="end">3000</text>
<text class="l" x="98" y="149.3" text-anchor="end">2000</text>
<text class="l" x="98" y="185.3" text-anchor="end">1000</text>
<text class="l" x="98" y="221.3" text-anchor="end">0</text>
<text class="l" x="98" y="257.3" text-anchor="end">-1000</text>
<text class="l" x="98" y="293.3" text-anchor="end">-2000</text>
<text class="l" x="98" y="330.3" text-anchor="end">-3000</text>
<text class="l" x="98" y="366.3" text-anchor="end">-4000</text>
<text class="l x" transform="translate(184.7,376) rotate(-90)" text-anchor="end">2025.10.09</text>
<text class="l x" transform="translate(282.7,376) rotate(-90)" text-anchor="end">2025.10.11</text>
<text class="l x" transform="translate(380.7,376) rotate(-90)" text-anchor="end">2025.10.13</text>
<text class="l x" transform="translate(478.7,376) rotate(-90)" text-anchor="end">2025.10.15</text>
<text class="l x" transform="translate(575.7,376) rotate(-90)" text-anchor="end">2025.10.17</text>
<text class="l x" transform="translate(673.7,376) rotate(-90)" text-anchor="end">2025.10.19</text>
<text class="l x" transform="translate(771.7,376) rotate(-90)" text-anchor="end">2025.10.21</text>
<text class="l x" transform="translate(869.7,376) rotate(-90)" text-anchor="end">2025.10.23</text>
<text class="l x" transform="translate(966.7,376) rotate(-90)" text-anchor="end">2025.10.25</text>
<text class="l x" transform="translate(1064.7,376) rotate(-90)" text-anchor="end">2025.10.27</text>
<text class="l x" transform="translate(1162.7,376) rotate(-90)" text-anchor="end">2025.10.29</text>
<text class="m" transform="translate(749,80.85) scale(1.107,1)" text-anchor="middle">9070</text>
<text class="m" transform="translate(846,362.85) scale(1.107,1)" text-anchor="middle">-5452</text>
</svg>
</body></html>
